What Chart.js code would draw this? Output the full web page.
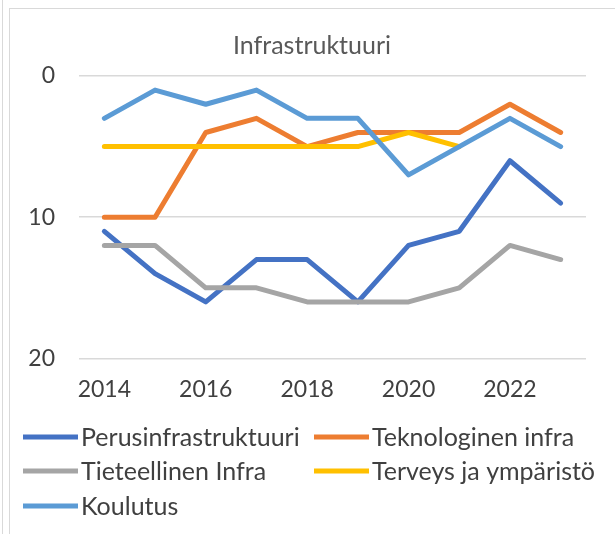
<!DOCTYPE html>
<html>
<head>
<meta charset="utf-8">
<script src="https://cdn.jsdelivr.net/npm/chart.js@4"></script>
<style>
    html, body { margin: 0; padding: 0; background: #ffffff; }
    #wrap { position: relative; width: 615px; height: 534px; overflow: hidden; }
    .edge { position: absolute; background: #d9d9d9; }
    canvas { position: absolute; left: 0; top: 0; }
</style>
</head>
<body>
<div id="wrap">
    <div class="edge" style="left:2px; top:0; width:1px; height:534px;"></div>
    <div class="edge" style="left:9px; top:8px; width:1px; height:526px;"></div>
    <div class="edge" style="left:9px; top:8px; width:606px; height:1px;"></div>
    <canvas id="infraChart" width="615" height="534"></canvas>
</div>
<script>
const years = ["2014", "2015", "2016", "2017", "2018", "2019", "2020", "2021", "2022", "2023"];
const perusinfra = [11, 14, 16, 13, 13, 16, 12, 11, 6, 9];
const teknologinen = [10, 10, 4, 3, 5, 4, 4, 4, 2, 4];
const tieteellinen = [12, 12, 15, 15, 16, 16, 16, 15, 12, 13];
const terveys = [5, 5, 5, 5, 5, 5, 4, 5, null, null];
const koulutus = [3, 1, 2, 1, 3, 3, 7, 5, 3, 5];
const yTicks = [0, 10, 20];

const chartTitle = "Infrastruktuuri";
const seriesNames = ["Perusinfrastruktuuri", "Teknologinen infra", "Tieteellinen Infra", "Terveys ja ympäristö", "Koulutus"];
const seriesColors = ["#4472C4", "#ED7D31", "#A5A5A5", "#FFC000", "#5B9BD5"];
const seriesData = [perusinfra, teknologinen, tieteellinen, terveys, koulutus];

const FONT = "Lato, 'Open Sans', sans-serif";

// title centred on the frame, legend laid out in two fixed columns like the original
const frameText = {
    id: "frameText",
    afterDraw(chart) {
        const ctx = chart.ctx;
        ctx.save();
        ctx.textBaseline = "middle";

        ctx.font = "25px " + FONT;
        ctx.textAlign = "center";
        ctx.fillStyle = "#595959";
        ctx.fillText(chartTitle, 312, 46);

        const cols = [23, 314];
        const rows = [437, 471, 506];
        ctx.textAlign = "left";
        seriesNames.forEach((name, i) => {
            const x = cols[i % 2];
            const y = rows[Math.floor(i / 2)];
            ctx.fillStyle = seriesColors[i];
            ctx.fillRect(x, y - 2.5, 55, 5);
            ctx.fillStyle = "#404040";
            ctx.fillText(name, x + 58, y + 1);
        });
        ctx.restore();
    }
};

const ctx = document.getElementById("infraChart").getContext("2d");

new Chart(ctx, {
    type: "line",
    data: {
        labels: years,
        datasets: seriesNames.map((name, i) => ({
            label: name,
            data: seriesData[i],
            borderColor: seriesColors[i],
            backgroundColor: seriesColors[i],
            borderWidth: 5,
            borderCapStyle: "round",
            borderJoinStyle: "round",
            pointRadius: 0,
            fill: false,
            spanGaps: false,
            order: seriesNames.length - 1 - i
        }))
    },
    options: {
        responsive: false,
        animation: false,
        layout: {
            padding: { top: 76, left: 0, right: 29, bottom: 114 }
        },
        plugins: {
            legend: { display: false },
            tooltip: { enabled: false },
            title: { display: false }
        },
        scales: {
            x: {
                type: "category",
                offset: true,
                grid: { display: false, drawTicks: false },
                border: { display: false },
                ticks: {
                    autoSkip: false,
                    maxRotation: 0,
                    padding: 17,
                    color: "#404040",
                    font: { family: FONT, size: 23 },
                    callback: function (value, index) {
                        return index % 2 === 0 ? years[index] : "";
                    }
                }
            },
            y: {
                reverse: true,
                min: yTicks[0],
                max: yTicks[yTicks.length - 1],
                afterFit: function (scale) { scale.width = 79; },
                afterBuildTicks: function (scale) {
                    scale.ticks = yTicks.map(v => ({ value: v }));
                },
                grid: { color: "#d9d9d9", lineWidth: 1.5, drawTicks: false },
                border: { display: false },
                ticks: {
                    padding: 24,
                    color: "#404040",
                    font: { family: FONT, size: 23 }
                }
            }
        }
    },
    plugins: [frameText]
});
</script>
</body>
</html>
